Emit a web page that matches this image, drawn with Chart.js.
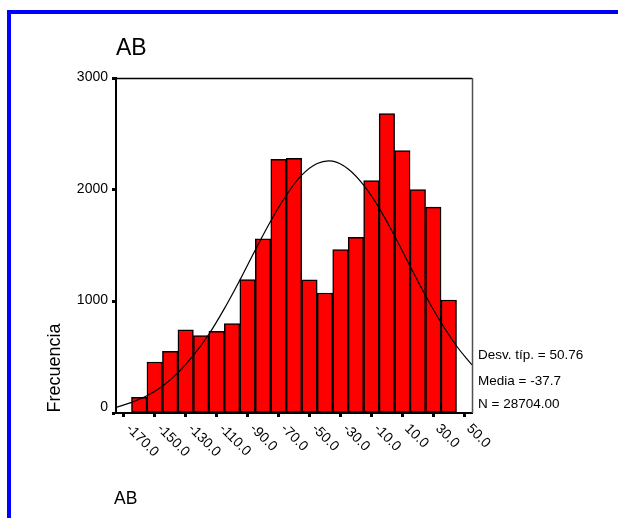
<!DOCTYPE html>
<html>
<head>
<meta charset="utf-8">
<style>
  html, body { margin: 0; padding: 0; background: #fff; }
  #wrap { width: 618px; height: 518px; position: relative; }
  canvas { display: block; }
</style>
<script src="https://cdn.jsdelivr.net/npm/chart.js@4"></script>
</head>
<body>
<div id="wrap"><canvas id="chart" width="618" height="518"></canvas></div>
<script>
// Histogram of AB: bin centres (width 10) and frequencies
const binCenters = [-160, -150, -140, -130, -120, -110, -100, -90, -80, -70, -60,
                    -50, -40, -30, -20, -10, 0, 10, 20, 30, 40];
const counts = [140, 457, 552, 744, 693, 731, 800, 1194, 1559, 2272, 2281,
                1192, 1075, 1463, 1574, 2082, 2682, 2350, 2001, 1843, 1012];

// Fitted normal curve, sampled across the axis range
const curveX = [-175, -165, -155, -145, -135, -125, -115, -105, -95, -85, -75, -65,
                -55, -45, -35, -25, -15, -5, 5, 15, 25, 35, 45, 55];
const curveY = [50, 95, 155, 240, 360, 515, 705, 935, 1190, 1460, 1720, 1950,
                2130, 2235, 2255, 2185, 2040, 1835, 1585, 1315, 1050, 810, 600, 430];

// Axis ticks
const xTicks = [-170, -150, -130, -110, -90, -70, -50, -30, -10, 10, 30, 50];
const xTickLabels = ['-170.0', '-150.0', '-130.0', '-110.0', '-90.0', '-70.0',
                     '-50.0', '-30.0', '-10.0', '10.0', '30.0', '50.0'];
const yTicks = [0, 1000, 2000, 3000];
const yTickLabels = ['0', '1000', '2000', '3000'];

// Texts
const chartTitle = 'AB';
const yTitle = 'Frecuencia';
const xTitle = 'AB';
const statLines = ['Desv. típ. = 50.76', 'Media = -37.7', 'N = 28704.00'];

const FONT = '"Liberation Sans", Arial, Helvetica, sans-serif';

const decorations = {
  id: 'decorations',
  beforeDraw(chart) {
    const c = chart.ctx;
    c.save();
    c.fillStyle = '#ffffff';
    c.fillRect(0, 0, chart.width, chart.height);
    // blue page frame (top and left)
    c.fillStyle = '#0000ff';
    c.fillRect(7, 10, chart.width - 7, 4);
    c.fillRect(7, 10, 4, chart.height - 10);
    c.restore();
  },
  afterDraw(chart) {
    const c = chart.ctx;
    const a = chart.chartArea;
    const xs = chart.scales.x, ys = chart.scales.y;
    c.save();

    // plot frame: top and right edges
    c.strokeStyle = '#000';
    c.lineWidth = 1.5;
    c.beginPath();
    c.moveTo(a.left, a.top + 0.5);
    c.lineTo(a.right, a.top + 0.5);
    c.stroke();
    c.strokeStyle = '#505050';
    c.beginPath();
    c.moveTo(a.right + 0.5, a.top);
    c.lineTo(a.right + 0.5, a.bottom);
    c.stroke();

    c.fillStyle = '#000';

    // y tick labels
    c.font = '14px ' + FONT;
    c.textAlign = 'right';
    c.textBaseline = 'middle';
    yTicks.forEach((v, i) => {
      const py = ys.getPixelForValue(v) + (v === 0 ? -6 : -1);
      c.fillText(yTickLabels[i], a.left - 8, py);
    });

    // x tick labels, rotated clockwise
    c.textAlign = 'left';
    xTicks.forEach((v, i) => {
      const px = xs.getPixelForValue(v);
      c.save();
      c.translate(px + 4.5, a.bottom + 13.5);
      c.rotate(Math.PI / 4);
      c.fillText(xTickLabels[i], 0, 0);
      c.restore();
    });

    // chart title
    c.font = '23px ' + FONT;
    c.textBaseline = 'alphabetic';
    c.textAlign = 'left';
    c.fillText(chartTitle, a.left, 54.5);

    // x axis title
    c.font = '17.5px ' + FONT;
    c.fillText(xTitle, 114, 503.5);

    // y axis title
    c.save();
    c.font = '18px ' + FONT;
    c.translate(60, 368);
    c.rotate(-Math.PI / 2);
    c.textAlign = 'center';
    c.fillText(yTitle, 0, 0);
    c.restore();

    // summary statistics
    c.font = '13.5px ' + FONT;
    const statBase = [359.3, 385.3, 408];
    statLines.forEach((t, i) => c.fillText(t, a.right + 6, statBase[i]));

    c.restore();
  }
};

new Chart(document.getElementById('chart').getContext('2d'), {
  type: 'bar',
  data: {
    datasets: [
      {
        type: 'line',
        data: curveX.map((x, i) => ({ x, y: curveY[i] })),
        borderColor: '#000',
        borderWidth: 1.2,
        pointRadius: 0,
        tension: 0.4,
        fill: false,
        order: 0
      },
      {
        type: 'bar',
        data: binCenters.map((x, i) => ({ x, y: counts[i] })),
        backgroundColor: '#ff0000',
        borderColor: '#000',
        borderWidth: 1.5,
        borderSkipped: false,
        barPercentage: 1,
        categoryPercentage: 1,
        order: 1
      }
    ]
  },
  options: {
    responsive: false,
    animation: false,
    events: [],
    layout: { padding: { top: 78, right: 146, left: 0, bottom: 0 } },
    plugins: { legend: { display: false }, tooltip: { enabled: false }, title: { display: false } },
    scales: {
      x: {
        type: 'linear',
        min: -175,
        max: 55,
        offset: false,
        afterBuildTicks: s => { s.ticks = xTicks.map(v => ({ value: v })); },
        afterFit: s => { s.height = 105; },
        grid: { display: true, drawOnChartArea: false, drawTicks: true, tickLength: 4, tickWidth: 3, tickColor: '#000', offset: false },
        border: { display: true, color: '#000', width: 2 },
        ticks: { display: false }
      },
      y: {
        type: 'linear',
        min: 0,
        max: 3000,
        afterBuildTicks: s => { s.ticks = yTicks.map(v => ({ value: v })); },
        afterFit: s => { s.width = 116; },
        grid: { display: true, drawOnChartArea: false, drawTicks: true, tickLength: 4, tickWidth: 3, tickColor: '#000' },
        border: { display: true, color: '#000', width: 2 },
        ticks: { display: false }
      }
    }
  },
  plugins: [decorations]
});
</script>
</body>
</html>
